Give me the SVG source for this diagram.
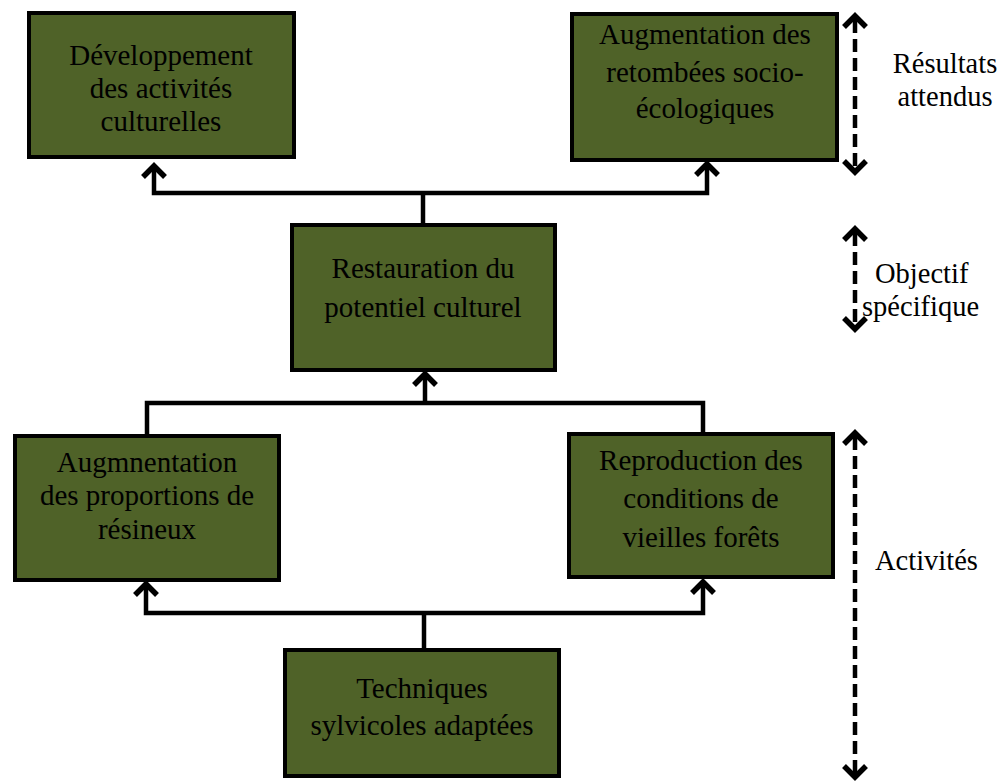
<svg xmlns="http://www.w3.org/2000/svg" width="1003" height="782" viewBox="0 0 1003 782">
<style>
.box{fill:#4F6228;stroke:#000;stroke-width:4}
.bt{font-family:'Liberation Serif','Tinos','Times New Roman','DejaVu Serif',serif;font-size:29px;fill:#000;text-anchor:middle}
.st{font-family:'Liberation Serif','Tinos','Times New Roman','DejaVu Serif',serif;font-size:28.5px;fill:#000}
.conn{fill:none;stroke:#000;stroke-width:4.5}
.dash{fill:none;stroke:#000;stroke-width:4.5;stroke-dasharray:13 6}
.head{fill:none;stroke:#000;stroke-width:5.5;stroke-linejoin:miter}
</style>
<defs>
<path id="up" class="head" d="M-11,13 L0,2 L11,13"/>
<path id="down" class="head" d="M-11,-13 L0,-2 L11,-13"/>
</defs>
<rect width="1003" height="782" fill="#fff"/>
<g id="connectors">
<path class="conn" d="M154,168 V193 H707 V166"/>
<use href="#up" x="154" y="164"/>
<use href="#up" x="707" y="162"/>
<path class="conn" d="M423,225 V193"/>
<path class="conn" d="M147,436 V403 H703 V434"/>
<path class="conn" d="M425,403 V376"/>
<use href="#up" x="425" y="372"/>
<path class="conn" d="M146,586 V613 H703 V584"/>
<use href="#up" x="146" y="582"/>
<use href="#up" x="703" y="580"/>
<path class="conn" d="M424,650 V613"/>
</g>
<g id="n1"><rect class="box" x="29" y="13" width="265" height="144"/>
<text class="bt" x="161" y="65">Développement</text>
<text class="bt" x="161" y="98">des activités</text>
<text class="bt" x="161" y="131">culturelles</text></g>
<g id="n2"><rect class="box" x="572" y="14" width="265" height="146"/>
<text class="bt" x="705" y="44">Augmentation des</text>
<text class="bt" x="705" y="82">retombées socio-</text>
<text class="bt" x="705" y="118">écologiques</text></g>
<g id="n3"><rect class="box" x="292" y="225" width="263" height="145"/>
<text class="bt" x="423" y="278">Restauration du</text>
<text class="bt" x="423" y="317">potentiel culturel</text></g>
<g id="n4"><rect class="box" x="15" y="436" width="264" height="144"/>
<text class="bt" x="147" y="472">Augmnentation</text>
<text class="bt" x="147" y="505">des proportions de</text>
<text class="bt" x="147" y="539">résineux</text></g>
<g id="n5"><rect class="box" x="569" y="434" width="264" height="143"/>
<text class="bt" x="701" y="470">Reproduction des</text>
<text class="bt" x="701" y="508">conditions de</text>
<text class="bt" x="701" y="547">vieilles forêts</text></g>
<g id="n6"><rect class="box" x="285" y="650" width="274" height="126"/>
<text class="bt" x="422" y="698">Techniques</text>
<text class="bt" x="422" y="735">sylvicoles adaptées</text></g>
<g id="levels">
<path class="dash" d="M855,20 V168"/>
<use href="#up" x="855" y="14"/>
<use href="#down" x="855" y="174"/>
<path class="dash" d="M855,233 V325"/>
<use href="#up" x="855" y="227"/>
<use href="#down" x="855" y="331"/>
<path class="dash" d="M855,437 V773"/>
<use href="#up" x="855" y="431"/>
<use href="#down" x="855" y="779"/>
<text class="st" x="945" y="73" text-anchor="middle">Résultats</text>
<text class="st" x="945" y="106" text-anchor="middle">attendus</text>
<text class="st" x="875" y="283">Objectif</text>
<text class="st" x="862" y="316">spécifique</text>
<text class="st" x="875" y="570">Activités</text>
</g>
</svg>
